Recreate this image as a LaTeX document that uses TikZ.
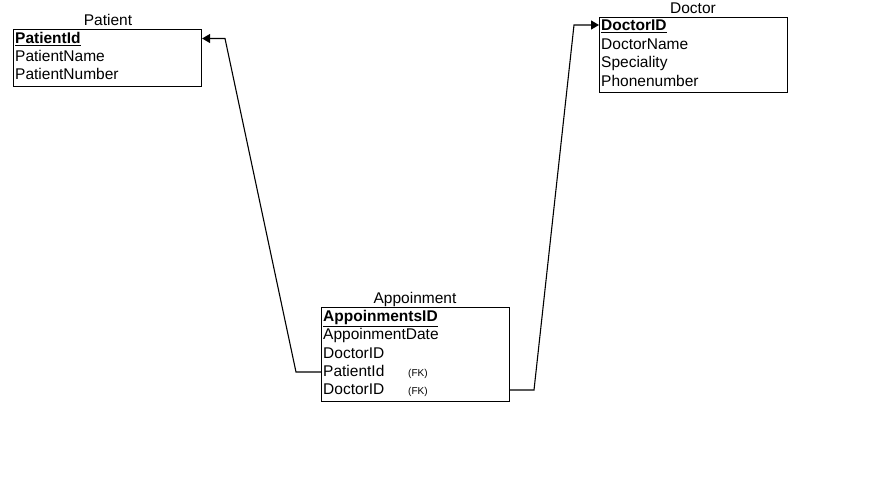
\documentclass[tikz,border=0pt]{standalone}
\usepackage{fontspec}
\setmainfont{Liberation Sans}
\usetikzlibrary{arrows.meta}
\begin{document}
\begin{tikzpicture}[x=1pt,y=-1pt,
  tbox/.style={draw=black,line width=1.1pt,anchor=north west,inner sep=0pt},
  row/.style={anchor=base west,inner sep=0pt,font=\fontsize{15.5}{18}\selectfont},
  ttl/.style={anchor=base,inner sep=0pt,font=\fontsize{15.5}{18}\selectfont},
  fk/.style={anchor=base west,inner sep=0pt,font=\fontsize{10}{12}\selectfont},
  conn/.style={draw=black,line width=1.1pt,-{Triangle[length=8pt,width=9pt]}}]
\useasboundingbox (0,0) rectangle (896,488);
% Patient
\node[tbox,minimum width=188pt,minimum height=57pt] (pbox) at (13,29) {};
\node[ttl] (ptitle) at (108,25.3) {Patient};
\node[row] (p1) at (15,43.3) {\textbf{\underline{PatientId}}};
\node[row] (p2) at (15,61.3) {PatientName};
\node[row] (p3) at (15,79.3) {PatientNumber};
% Doctor
\node[tbox,minimum width=188pt,minimum height=75pt] (dbox) at (599,17) {};
\node[ttl] (dtitle) at (693,13.3) {Doctor};
\node[row] (d1) at (601,30.3) {\textbf{\underline{DoctorID}}};
\node[row] (d2) at (601,49.3) {DoctorName};
\node[row] (d3) at (601,67.3) {Speciality};
\node[row] (d4) at (601,86.3) {Phonenumber};
% Appoinment
\node[tbox,minimum width=188pt,minimum height=94pt] (abox) at (321,307) {};
\node[ttl] (atitle) at (415,303.3) {Appoinment};
\node[row] (a1) at (323,321.3) {\textbf{\underline{AppoinmentsID}}};
\node[row] (a2) at (323,339.3) {AppoinmentDate};
\node[row] (a3) at (323,358.3) {DoctorID};
\node[row] (a4) at (323,376.3) {PatientId};
\node[row] (a5) at (323,394.3) {DoctorID};
\node[fk] (fk1) at (408,376) {(FK)};
\node[fk] (fk2) at (408,394) {(FK)};
% connectors
\coordinate (c1) at (296,372);
\coordinate (c2) at (225,38.5);
\coordinate (c3) at (534,390);
\coordinate (c4) at (574,25);
\draw[conn] (abox.west |- c1) -- (c1) -- (c2) -- (pbox.east |- c2);
\draw[conn] (abox.east |- c3) -- (c3) -- (c4) -- (dbox.west |- c4);
\end{tikzpicture}
\end{document}
